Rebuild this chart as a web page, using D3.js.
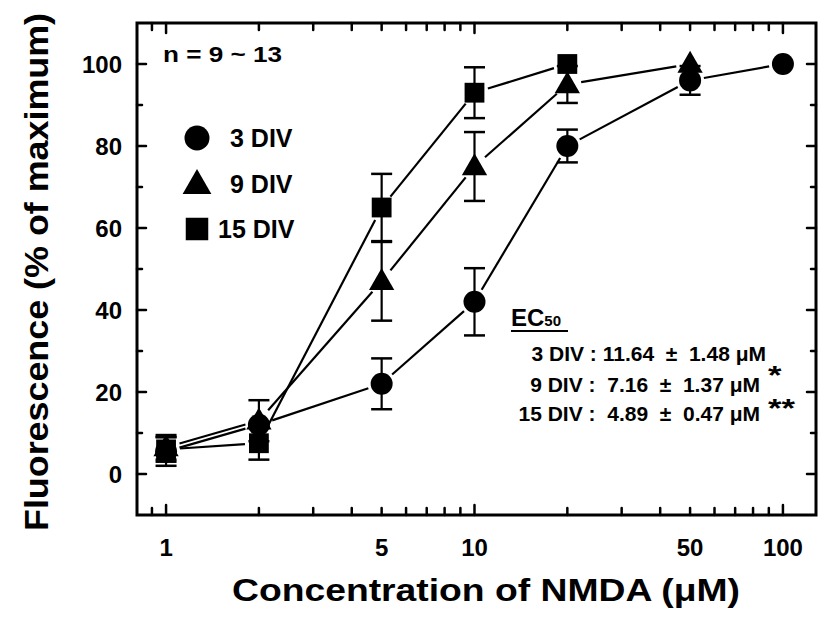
<!DOCTYPE html>
<html>
<head>
<meta charset="utf-8">
<script src="https://cdn.jsdelivr.net/npm/d3@7"></script>
<style>
  html, body { margin: 0; padding: 0; background: #fff; }
  svg { display: block; }
  text { font-family: "Liberation Sans", Arial, Helvetica, sans-serif; font-weight: bold; fill: #000; }
</style>
</head>
<body>
<script>
// NMDA concentration (µM) for each culture age
const conc3 = [1, 2, 5, 10, 20, 50, 100];
const conc9 = [1, 2, 5, 10, 20, 50];
const conc15 = [1, 2, 5, 10, 20];

// Fluorescence, % of maximum (mean and SEM)
const mean3 = [5.5, 12, 22, 42, 80, 96, 100];
const sem3 = [3.5, 0, 6.2, 8.2, 4, 3.5, 0];
const mean9 = [6.5, 13, 47, 75, 95, 100];
const sem9 = [3, 5, 9.6, 8.4, 4.5, 0];
const mean15 = [6, 7.5, 65, 93, 100];
const sem15 = [3, 4, 8.2, 6.2, 0];

const seriesNames = ["3 DIV", "9 DIV", "15 DIV"];
const seriesShapes = ["circle", "triangle", "square"];

const xMajorTicks = [1, 10, 100];
const xMinorTicks = [0.9, 2, 3, 4, 5, 6, 7, 8, 9, 20, 30, 40, 50, 60, 70, 80, 90];
const xTickLabels = [1, 5, 10, 50, 100];
const yMajorTicks = [0, 20, 40, 60, 80, 100];
const yMinorTicks = [10, 30, 50, 70, 90];

const ec50Lines = [
  { label: "3 DIV : 11.64  \u00b1  1.48 \u03bcM", mark: "" },
  { label: "9 DIV :  7.16  \u00b1  1.37 \u03bcM", mark: "*" },
  { label: "15 DIV :  4.89  \u00b1  0.47 \u03bcM", mark: "**" }
];

const W = 839, H = 619;
const plot = { left: 137, right: 816, top: 23, bottom: 515 };

const svg = d3.select("body").append("svg")
  .attr("width", W).attr("height", H);

const x = d3.scaleLog().domain([0.805, 128]).range([plot.left, plot.right]);
const y = d3.scaleLinear().domain([-10, 110]).range([plot.bottom, plot.top]);

// ---- frame ----
svg.append("rect")
  .attr("x", plot.left).attr("y", plot.top)
  .attr("width", plot.right - plot.left).attr("height", plot.bottom - plot.top)
  .attr("fill", "none").attr("stroke", "#000").attr("stroke-width", 3);

// ---- ticks (inward on all four sides) ----
const tickG = svg.append("g").attr("stroke", "#000").attr("stroke-width", 2.5).attr("stroke-linecap", "round");
function xTicks(vals, len) {
  vals.forEach(v => {
    tickG.append("line").attr("x1", x(v)).attr("x2", x(v))
      .attr("y1", plot.bottom).attr("y2", plot.bottom - len);
    tickG.append("line").attr("x1", x(v)).attr("x2", x(v))
      .attr("y1", plot.top).attr("y2", plot.top + len);
  });
}
function yTicks(vals, len) {
  vals.forEach(v => {
    tickG.append("line").attr("y1", y(v)).attr("y2", y(v))
      .attr("x1", plot.left).attr("x2", plot.left + len);
    tickG.append("line").attr("y1", y(v)).attr("y2", y(v))
      .attr("x1", plot.right).attr("x2", plot.right - len);
  });
}
xTicks(xMajorTicks, 10);
xTicks(xMinorTicks, 7);
yTicks(yMajorTicks, 9);
yTicks(yMinorTicks, 5);

// ---- tick labels ----
svg.append("g").selectAll("text").data(xTickLabels).join("text")
  .attr("x", d => x(d)).attr("y", 556)
  .attr("text-anchor", "middle").attr("font-size", 24)
  .text(d => d);

svg.append("g").selectAll("text").data(yMajorTicks).join("text")
  .attr("x", 122).attr("y", d => y(d) + 8.5)
  .attr("text-anchor", "end").attr("font-size", 24)
  .text(d => d);

// ---- axis titles ----
svg.append("text")
  .attr("x", 232).attr("y", 601)
  .attr("font-size", 32)
  .attr("textLength", 508).attr("lengthAdjust", "spacingAndGlyphs")
  .text("Concentration of NMDA (\u03bcM)");

svg.append("text")
  .attr("transform", "translate(48, 531) rotate(-90)")
  .attr("font-size", 33)
  .attr("textLength", 518).attr("lengthAdjust", "spacingAndGlyphs")
  .text("Fluorescence (% of maximum)");

// ---- markers ----
function drawMarker(g, shape, cx, cy, size) {
  if (shape === "circle") {
    g.append("circle").attr("cx", cx).attr("cy", cy).attr("r", size).attr("fill", "#000");
  } else if (shape === "square") {
    const s = size * 1.8;
    g.append("rect").attr("x", cx - s / 2).attr("y", cy - s / 2)
      .attr("width", s).attr("height", s).attr("fill", "#000");
  } else {
    const w = size * 2.3, h = size * 2.0;
    g.append("path")
      .attr("d", `M${cx},${cy - h * 0.6}L${cx + w / 2},${cy + h * 0.4}L${cx - w / 2},${cy + h * 0.4}Z`)
      .attr("fill", "#000");
  }
}

const series = [
  { xs: conc3, m: mean3, e: sem3, shape: "circle" },
  { xs: conc9, m: mean9, e: sem9, shape: "triangle" },
  { xs: conc15, m: mean15, e: sem15, shape: "square" }
];

const dataG = svg.append("g");
const gap = 14;
series.forEach(s => {
  const pts = s.xs.map((c, i) => ({ px: x(c), py: y(s.m[i]), lo: y(s.m[i] - s.e[i]), hi: y(s.m[i] + s.e[i]), e: s.e[i] }));
  // connecting segments stop short of each marker
  for (let i = 0; i < pts.length - 1; i++) {
    const a = pts[i], b = pts[i + 1];
    const dx = b.px - a.px, dy = b.py - a.py, len = Math.hypot(dx, dy);
    if (len <= 2 * gap) continue;
    const ux = dx / len, uy = dy / len;
    dataG.append("line")
      .attr("x1", a.px + ux * gap).attr("y1", a.py + uy * gap)
      .attr("x2", b.px - ux * gap).attr("y2", b.py - uy * gap)
      .attr("stroke", "#000").attr("stroke-width", 2.2);
  }
  // error bars
  pts.forEach(p => {
    if (p.e <= 0) return;
    dataG.append("line").attr("x1", p.px).attr("x2", p.px).attr("y1", p.lo).attr("y2", p.hi)
      .attr("stroke", "#000").attr("stroke-width", 2.2);
    [p.lo, p.hi].forEach(v => {
      dataG.append("line").attr("x1", p.px - 10.5).attr("x2", p.px + 10.5).attr("y1", v).attr("y2", v)
        .attr("stroke", "#000").attr("stroke-width", 2.5);
    });
  });
  pts.forEach(p => drawMarker(dataG, s.shape, p.px, p.py, 11));
});

// ---- sample size ----
svg.append("text").attr("x", 163).attr("y", 62).attr("font-size", 22)
  .attr("textLength", 119).attr("lengthAdjust", "spacingAndGlyphs")
  .text("n = 9 ~ 13");

// ---- legend ----
const legendG = svg.append("g");
const legendY = [138, 184, 229];
const legendTextX = [230, 230, 218];
seriesNames.forEach((name, i) => {
  drawMarker(legendG, seriesShapes[i], 197, legendY[i], 12.5);
  legendG.append("text").attr("x", legendTextX[i]).attr("y", legendY[i] + 9)
    .attr("font-size", 25).text(name);
});

// ---- EC50 summary ----
const ecG = svg.append("g");
const ecTitle = ecG.append("text").attr("x", 511).attr("y", 326).attr("font-size", 24);
ecTitle.append("tspan").text("EC");
ecTitle.append("tspan").attr("font-size", 15).text("50");
ecG.append("line").attr("x1", 511).attr("x2", 568).attr("y1", 331).attr("y2", 331)
  .attr("stroke", "#000").attr("stroke-width", 2);

const ecRowY = [361, 392, 421];
const ecRight = [766, 760, 760];
const markY = [0, 384, 417];
ec50Lines.forEach((row, i) => {
  ecG.append("text").attr("x", ecRight[i]).attr("y", ecRowY[i])
    .attr("text-anchor", "end").attr("font-size", 21)
    .style("white-space", "pre").text(row.label);
  if (row.mark) {
    ecG.append("text").attr("x", 768).attr("y", markY[i])
      .attr("font-size", 26)
      .attr("textLength", row.mark.length * 13.5).attr("lengthAdjust", "spacingAndGlyphs")
      .text(row.mark);
  }
});
</script>
</body>
</html>
